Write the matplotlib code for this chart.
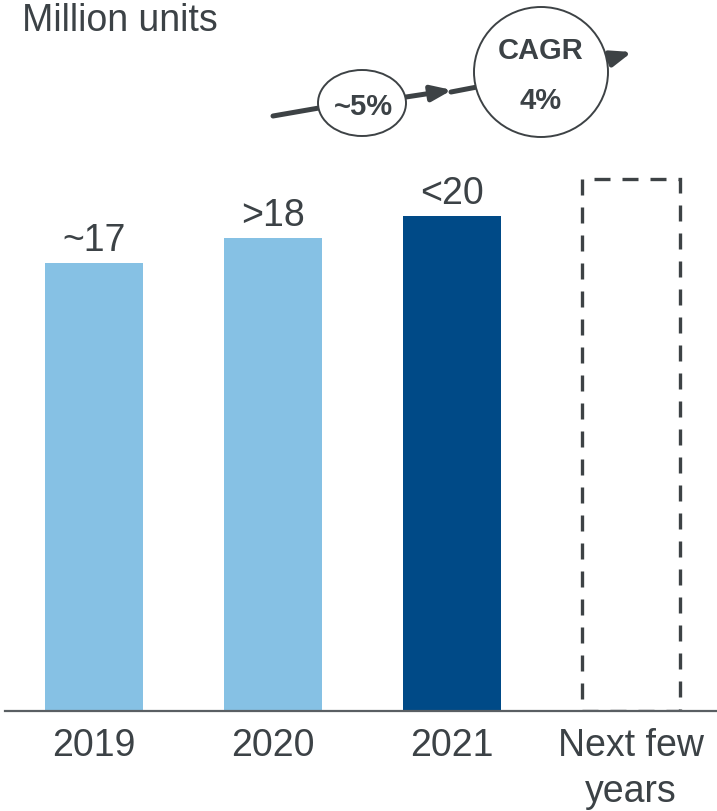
import matplotlib.pyplot as plt
from matplotlib.patches import Ellipse, FancyArrowPatch

plt.rcParams['font.family'] = ['Liberation Sans', 'DejaVu Sans']

# --- data ---
categories = ['2019', '2020', '2021', 'Next few\nyears']
values = [17.1, 18.05, 18.9]
value_labels = ['~17', '>18', '<20']
outlook_value = 20.3
cagr_hist = '~5%'
cagr_next = 'CAGR\n4%'

light_blue = '#86c1e4'
dark_blue = '#004a87'
text_col = '#3c4246'
arrow_col = '#3d4245'

W, H = 717, 811
fig = plt.figure(figsize=(W / 100, H / 100), dpi=100)

# bar area: baseline 100 px above the bottom edge, 26.2 px per unit
ax = fig.add_axes([4.5 / W, 100 / H, 716 / W, 711 / H])
ax.set_xlim(-0.5, 3.5)
ax.set_ylim(0, 711 / 26.2)

x = range(len(values))
ax.bar(x, values, width=0.553, color=[light_blue, light_blue, dark_blue])
ax.bar(3, outlook_value, width=0.553, fill=False, edgecolor=arrow_col,
       linewidth=2.4, linestyle=(0, (4.8, 3.6)))

for xi, v, lab in zip(x, values, value_labels):
    ax.annotate(lab, (xi, v), xytext=(0, 3), textcoords='offset points',
                ha='center', va='bottom', fontsize=27, color=text_col)

ax.set_xticks(range(len(categories)))
ax.set_xticklabels(categories, fontsize=27, color=text_col, linespacing=1.36)
ax.tick_params(axis='x', length=0, pad=12)
ax.set_yticks([])
for s in ['top', 'left', 'right']:
    ax.spines[s].set_visible(False)
ax.spines['bottom'].set_color('#5a5f63')
ax.spines['bottom'].set_linewidth(1.6)


# figure positions given in pixels from the top-left corner
def px(xp, yp):
    return (xp / W, 1 - yp / H)


fig.text(*px(22, 31), 'Million units', fontsize=27, color=text_col,
         ha='left', va='baseline')

# growth arrows
segments = [((273, 116), (319, 108), False),
            ((406, 97), (452, 90), True),
            ((451, 92), (477, 87), False),
            ((606, 60), (632, 52), True)]
for p0, p1, head in segments:
    fig.add_artist(FancyArrowPatch(
        px(*p0), px(*p1), transform=fig.transFigure,
        arrowstyle='-|>,head_length=12,head_width=4.6' if head else '-',
        mutation_scale=1, color=arrow_col, linewidth=3.6,
        shrinkA=0, shrinkB=0))

fig.add_artist(Ellipse(px(362, 103), 88 / W, 66 / H, transform=fig.transFigure,
                       facecolor='white', edgecolor=arrow_col, linewidth=1.4))
fig.add_artist(Ellipse(px(541, 72), 134 / W, 130 / H, transform=fig.transFigure,
                       facecolor='white', edgecolor=arrow_col, linewidth=1.4))

fig.text(*px(363, 107), cagr_hist, fontsize=21, fontweight='bold',
         color=text_col, ha='center', va='center')
fig.text(*px(541, 76), cagr_next, fontsize=21, fontweight='bold',
         color=text_col, ha='center', va='center', linespacing=2.0)

fig.savefig('out.png', dpi=100)
